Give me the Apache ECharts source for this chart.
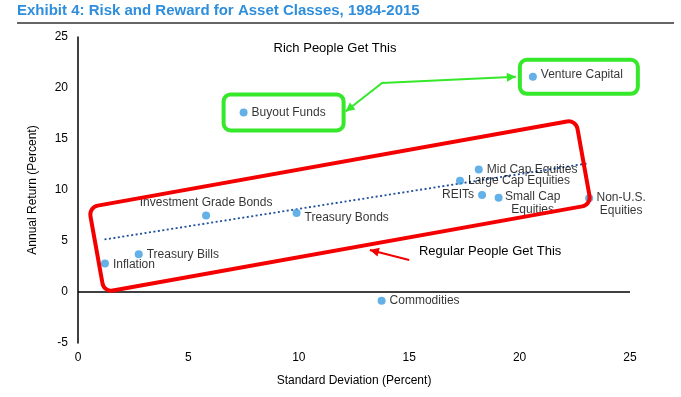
<!DOCTYPE html>
<html><head><meta charset="utf-8">
<script src="https://cdn.jsdelivr.net/npm/echarts@6/dist/echarts.min.js"></script>
<style>html,body{margin:0;padding:0;background:#fff}#c{width:681px;height:397px}</style>
</head><body><div id="c"></div>
<script>
// ---- data ----
const titleText = 'Exhibit 4: Risk and Reward for Asset Classes, 1984-2015';
const names = ['Inflation','Treasury Bills','Investment Grade Bonds','Treasury Bonds','Large Cap Equities','Mid Cap Equities','REITs','Small Cap\nEquities','Non-U.S.\nEquities','Commodities','Buyout Funds','Venture Capital'];
const stdDev =       [1.22, 2.75, 5.8, 9.9, 17.3, 18.15, 18.3, 19.05, 23.15, 13.75, 7.5, 20.6];
const annualReturn = [2.8,  3.7,  7.5, 7.75, 10.9, 12.0, 9.5,  9.25,  9.2,  -0.85, 17.6, 21.1];
const trendX = [1.2, 23.05];
const trendY = [5.15, 12.6];
const xTicks = [0, 5, 10, 15, 20, 25];
const yTicks = [-5, 0, 5, 10, 15, 20, 25];
const richText = 'Rich People Get This';
const regularText = 'Regular People Get This';

// annotation anchors in data coordinates
const redBoxCorners = [[0.54, 8.33], [22.51, 16.86], [23.28, 8.53], [1.13, 0.0]]; // TL, TR, BR, BL
const richTextPos = [11.64, 23.9];
const regularTextPos = [15.44, 4.02];
const redArrow = [[15.0, 3.14], [13.22, 4.12]]; // tail, head
const greenJunction = [13.77, 20.5];

const font = '"Liberation Sans", Arial, sans-serif';
const chart = echarts.init(document.getElementById('c'), null, {renderer: 'canvas'});

const labelCfg = {
  'Investment Grade Bonds': {position: 'top', distance: 2},
  'Treasury Bonds': {offset: [0, 5]},
  'REITs': {position: 'left'},
  'Small Cap\nEquities': {align: 'center', offset: [26, 6]},
  'Non-U.S.\nEquities': {align: 'center', offset: [24, 6]},
  'Venture Capital': {offset: [0, -2]},
  'Inflation': {offset: [0, 1]}
};

const points = names.map((n, i) => {
  const d = {name: n, value: [stdDev[i], annualReturn[i]]};
  if (labelCfg[n]) d.label = labelCfg[n];
  return d;
});

chart.setOption({
  animation: false,
  grid: {left: 78, right: 51, top: 37, bottom: 54},
  xAxis: {
    type: 'value', min: xTicks[0], max: xTicks[xTicks.length - 1], interval: xTicks[1] - xTicks[0],
    axisLine: {show: false}, axisTick: {show: false}, splitLine: {show: false},
    axisLabel: {color: '#000', fontSize: 12, fontFamily: font, margin: 9},
    name: 'Standard Deviation (Percent)', nameLocation: 'middle', nameGap: 32,
    nameTextStyle: {color: '#000', fontSize: 12, fontFamily: font}
  },
  yAxis: {
    type: 'value', min: yTicks[0], max: yTicks[yTicks.length - 1], interval: yTicks[1] - yTicks[0],
    axisLine: {show: true, onZero: false, lineStyle: {color: '#000', width: 1.5}},
    axisTick: {show: false}, splitLine: {show: false},
    axisLabel: {color: '#000', fontSize: 12, fontFamily: font, margin: 10},
    name: 'Annual Return (Percent)', nameLocation: 'middle', nameGap: 39,
    nameTextStyle: {color: '#000', fontSize: 12, fontFamily: font}
  },
  series: [
    {
      type: 'line', data: trendX.map((x, i) => [x, trendY[i]]), symbol: 'none',
      lineStyle: {color: '#1f4f9c', width: 1.8, type: [2, 2.5]}, z: 2, silent: true
    },
    {
      type: 'scatter', data: points, symbolSize: 8,
      itemStyle: {color: '#3d9de2'}, z: 3,
      label: {show: true, position: 'right', distance: 4, color: '#000', fontSize: 12, fontFamily: font,
        lineHeight: 13, formatter: p => p.name},
      markLine: {
        silent: true, symbol: 'none', label: {show: false},
        lineStyle: {color: '#000', width: 1.5, type: 'solid'},
        data: [[{coord: [xTicks[0], 0]}, {coord: [xTicks[xTicks.length - 1], 0]}]]
      }
    }
  ]
});

function px(p) { return chart.convertToPixel({gridIndex: 0}, p); }
function arrowHead(tail, head, len, half, color) {
  const dx = head[0] - tail[0], dy = head[1] - tail[1];
  const L = Math.hypot(dx, dy), ux = dx / L, uy = dy / L;
  const bx = head[0] - ux * len, by = head[1] - uy * len;
  return {type: 'polygon', z: 10, silent: true,
    shape: {points: [head, [bx - uy * half, by + ux * half], [bx + uy * half, by - ux * half]]},
    style: {fill: color}};
}

const g = [];
// title
g.push({type: 'text', left: 17, top: 3, z: 10,
  style: {text: titleText, font: 'bold 15px ' + font, fill: '#2f8edc'}});
g.push({type: 'line', z: 10, shape: {x1: 17, y1: 23, x2: 674, y2: 23}, style: {stroke: '#333', lineWidth: 1.5}});

// red box
const c = redBoxCorners.map(px);
const cx = (c[0][0] + c[1][0] + c[2][0] + c[3][0]) / 4;
const cy = (c[0][1] + c[1][1] + c[2][1] + c[3][1]) / 4;
const w = (Math.hypot(c[1][0] - c[0][0], c[1][1] - c[0][1]) + Math.hypot(c[2][0] - c[3][0], c[2][1] - c[3][1])) / 2;
const h = (Math.hypot(c[3][0] - c[0][0], c[3][1] - c[0][1]) + Math.hypot(c[2][0] - c[1][0], c[2][1] - c[1][1])) / 2;
const ang = Math.atan2(c[0][1] - c[1][1], c[1][0] - c[0][0]);
g.push({type: 'rect', x: cx, y: cy, rotation: ang, z: 9, silent: true,
  shape: {x: -w / 2, y: -h / 2, width: w, height: h, r: 9},
  style: {fill: 'none', stroke: '#f40000', lineWidth: 4}});

// red arrow
const rt = px(redArrow[0]), rh = px(redArrow[1]);
g.push({type: 'line', z: 10, silent: true, shape: {x1: rt[0], y1: rt[1], x2: rh[0], y2: rh[1]}, style: {stroke: '#f40000', lineWidth: 2}});
g.push(arrowHead(rt, rh, 9, 4.5, '#f40000'));

// texts
const rp = px(richTextPos), gp = px(regularTextPos);
g.push({type: 'text', x: rp[0], y: rp[1], z: 10, style: {text: richText, font: '13px ' + font, fill: '#000', textAlign: 'center', textVerticalAlign: 'middle'}});
g.push({type: 'text', x: gp[0], y: gp[1], z: 10, style: {text: regularText, font: '13px ' + font, fill: '#000', textAlign: 'left', textVerticalAlign: 'middle'}});

// green boxes around Buyout Funds and Venture Capital
const green = '#35e82a';
const bo = px([stdDev[10], annualReturn[10]]);
const vc = px([stdDev[11], annualReturn[11]]);
const boBox = {x: bo[0] - 20, y: bo[1] - 18, width: 120, height: 36};
const vcBox = {x: vc[0] - 13, y: vc[1] - 17, width: 118, height: 34};
[boBox, vcBox].forEach(b => g.push({type: 'rect', z: 9, silent: true, shape: Object.assign({r: 7}, b),
  style: {fill: 'none', stroke: green, lineWidth: 4}}));
const gj = px(greenJunction);
const vcEnd = [vcBox.x - 4, vc[1]];
const boEnd = [boBox.x + boBox.width + 2, bo[1] - 1];
g.push({type: 'polyline', z: 10, silent: true, shape: {points: [vcEnd, gj, boEnd]}, style: {stroke: green, lineWidth: 2, fill: 'none'}});
g.push(arrowHead(gj, vcEnd, 9, 4.5, green));
g.push(arrowHead(gj, boEnd, 9, 4.5, green));

chart.setOption({graphic: g});
</script></body></html>
